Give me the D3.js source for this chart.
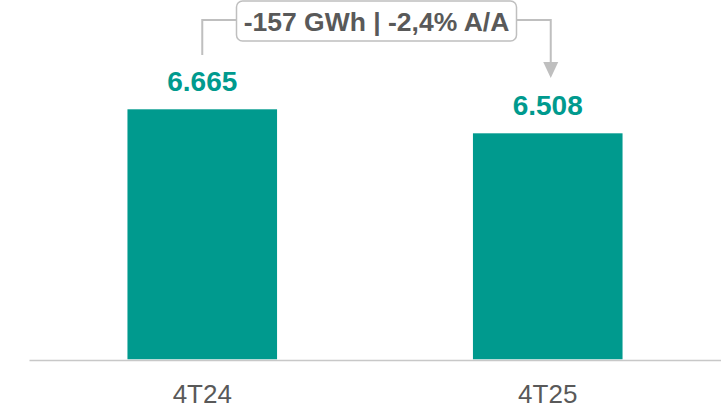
<!DOCTYPE html>
<html>
<head>
<meta charset="utf-8">
<script src="https://cdn.jsdelivr.net/npm/d3@7"></script>
<style>
  body { margin: 0; background: #fff; }
  svg { display: block; font-family: "Liberation Sans", Arial, sans-serif; }
</style>
</head>
<body>
<div id="chart"></div>
<script>
// chart data
const categories = ['4T24', '4T25'];
const values = [6665, 6508];
const valueLabels = ['6.665', '6.508'];
const deltaLabel = '-157 GWh | -2,4% A/A';
const yFloor = 5030; // axis does not start at zero

const width = 721;
const height = 410;
const teal = '#009a8e';
const grey = '#bfbfbf';

const svg = d3.select('#chart').append('svg')
  .attr('width', width)
  .attr('height', height);

const xScale = d3.scaleBand()
  .domain(categories)
  .range([29, 721])
  .paddingInner(0.567)
  .paddingOuter(0.285);

const yScale = d3.scaleLinear()
  .domain([yFloor, values[0]])
  .range([359.3, 109.3]);

// bars
svg.append('g').selectAll('rect')
  .data(values)
  .join('rect')
  .attr('x', (d, i) => xScale(categories[i]))
  .attr('y', (d) => yScale(d))
  .attr('width', xScale.bandwidth())
  .attr('height', (d) => yScale(yFloor) - yScale(d))
  .attr('fill', teal);

// value labels
svg.append('g').selectAll('text')
  .data(values)
  .join('text')
  .attr('x', (d, i) => xScale(categories[i]) + xScale.bandwidth() / 2)
  .attr('y', (d) => yScale(d) - 18.8)
  .attr('text-anchor', 'middle')
  .attr('font-size', 28)
  .attr('font-weight', 'bold')
  .attr('fill', teal)
  .text((d, i) => valueLabels[i]);

// x axis
const xAxis = svg.append('g')
  .attr('transform', 'translate(0, 360)')
  .call(d3.axisBottom(xScale).tickSize(0));
xAxis.select('.domain').attr('stroke', '#c8c8c8').attr('stroke-width', 1.5);
xAxis.selectAll('text')
  .attr('y', 42.7)
  .attr('dy', null)
  .attr('font-size', 26)
  .attr('font-family', '"Liberation Sans", Arial, sans-serif')
  .attr('fill', '#595959');

// delta annotation
const c0 = xScale(categories[0]) + xScale.bandwidth() / 2;
const c1 = xScale(categories[1]) + xScale.bandwidth() / 2 + 3;
const boxX0 = 236.5, boxX1 = 516.5, lineY = 20;

svg.append('path')
  .attr('d', `M${c0},55 V${lineY} H${boxX0}`)
  .attr('fill', 'none')
  .attr('stroke', grey)
  .attr('stroke-width', 2);

svg.append('path')
  .attr('d', `M${boxX1},${lineY} H${c1} V63`)
  .attr('fill', 'none')
  .attr('stroke', grey)
  .attr('stroke-width', 2);

svg.append('path')
  .attr('d', `M${c1 - 7.5},62 L${c1 + 7.5},62 L${c1},78 Z`)
  .attr('fill', grey);

svg.append('rect')
  .attr('x', boxX0)
  .attr('y', 1)
  .attr('width', boxX1 - boxX0)
  .attr('height', 40)
  .attr('rx', 6)
  .attr('fill', '#fff')
  .attr('stroke', grey)
  .attr('stroke-width', 1.5);

svg.append('text')
  .attr('x', (boxX0 + boxX1) / 2)
  .attr('y', 31)
  .attr('text-anchor', 'middle')
  .attr('font-size', 26.5)
  .attr('font-weight', 'bold')
  .attr('fill', '#595959')
  .text(deltaLabel);
</script>
</body>
</html>
